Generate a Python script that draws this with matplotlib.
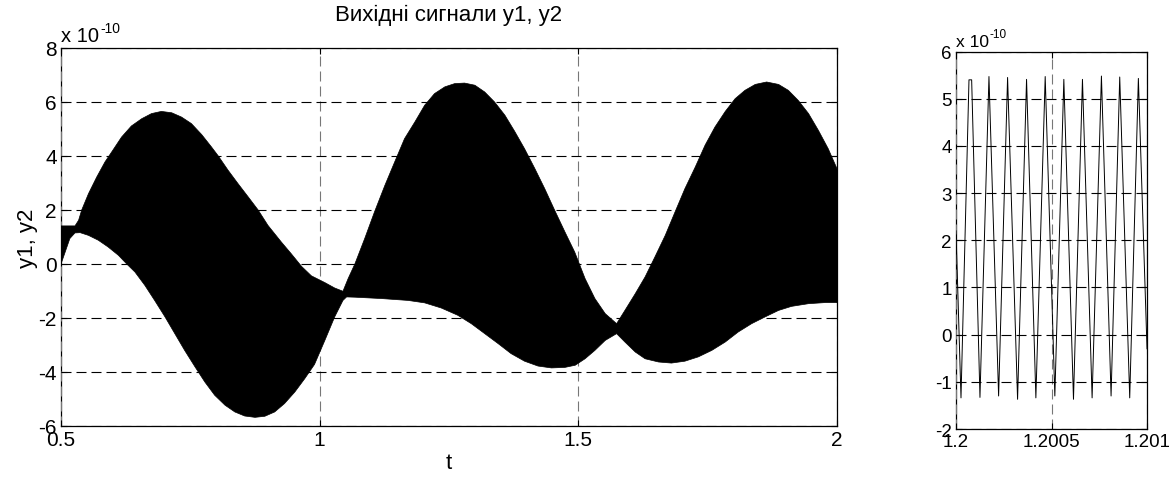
import numpy as np
import matplotlib
matplotlib.use("Agg")
import matplotlib.pyplot as plt
from matplotlib.transforms import offset_copy

plt.rcParams['font.family'] = ['Liberation Sans', 'DejaVu Sans']
plt.rcParams['axes.unicode_minus'] = False

# upper and lower envelope of the output band (values in units of 1e-10)
t_up = [0.5, 0.527, 0.534, 0.540, 0.553, 0.569, 0.585, 0.598, 0.617, 0.636,
        0.656, 0.675, 0.694, 0.714, 0.733, 0.752, 0.772, 0.791, 0.804, 0.823,
        0.842, 0.862, 0.881, 0.900, 0.926, 0.945, 0.965, 0.984, 1.010, 1.029,
        1.045, 1.055, 1.068, 1.087, 1.106, 1.126, 1.145, 1.164, 1.184, 1.203,
        1.222, 1.242, 1.261, 1.280, 1.300, 1.319, 1.338, 1.358, 1.377, 1.396,
        1.416, 1.435, 1.454, 1.474, 1.493, 1.513, 1.532, 1.552, 1.574, 1.590,
        1.610, 1.629, 1.648, 1.668, 1.687, 1.706, 1.726, 1.745, 1.764, 1.784,
        1.803, 1.822, 1.842, 1.864, 1.887, 1.906, 1.925, 1.945, 1.964, 1.983, 2.0]
y_up = [1.41, 1.41, 1.62, 2.0, 2.60, 3.22, 3.78, 4.15, 4.70, 5.11,
        5.38, 5.57, 5.65, 5.60, 5.44, 5.20, 4.79, 4.33, 4.0, 3.47,
        2.98, 2.48, 2.0, 1.43, 0.81, 0.38, -0.09, -0.44, -0.69, -0.89,
        -1.01, -0.54, 0.0, 0.94, 1.93, 2.91, 3.78, 4.64, 5.26, 5.88,
        6.31, 6.56, 6.68, 6.70, 6.62, 6.37, 6.0, 5.51, 4.91, 4.27,
        3.53, 2.79, 2.0, 1.19, 0.44, -0.54, -1.28, -1.84, -2.21, -1.72,
        -1.10, -0.48, 0.26, 1.06, 1.93, 2.79, 3.59, 4.40, 5.07, 5.65,
        6.12, 6.43, 6.65, 6.74, 6.65, 6.43, 6.06, 5.57, 4.95, 4.27, 3.53]

t_lo = [0.5, 0.508, 0.517, 0.527, 0.537, 0.553, 0.572, 0.591, 0.611, 0.627,
        0.643, 0.662, 0.681, 0.701, 0.720, 0.739, 0.759, 0.778, 0.797, 0.817,
        0.836, 0.855, 0.875, 0.894, 0.913, 0.932, 0.952, 0.971, 0.990, 1.010,
        1.029, 1.045, 1.052, 1.068, 1.119, 1.171, 1.203, 1.235, 1.267, 1.293,
        1.319, 1.345, 1.370, 1.396, 1.422, 1.448, 1.474, 1.494, 1.513, 1.532,
        1.552, 1.574, 1.590, 1.610, 1.629, 1.655, 1.680, 1.706, 1.732, 1.758,
        1.784, 1.809, 1.835, 1.861, 1.887, 1.912, 1.945, 1.977, 2.0]
y_lo = [0.0, 0.44, 0.94, 1.15, 1.16, 1.06, 0.88, 0.63, 0.32, 0.0,
        -0.30, -0.79, -1.35, -1.96, -2.58, -3.20, -3.81, -4.37, -4.86, -5.23,
        -5.48, -5.63, -5.68, -5.64, -5.48, -5.17, -4.74, -4.25, -3.72, -2.83,
        -1.96, -1.35, -1.22, -1.23, -1.28, -1.35, -1.44, -1.63, -1.90, -2.21,
        -2.58, -2.95, -3.32, -3.60, -3.78, -3.85, -3.83, -3.75, -3.51, -3.20,
        -2.83, -2.58, -2.89, -3.26, -3.51, -3.63, -3.67, -3.60, -3.44, -3.20,
        -2.89, -2.52, -2.21, -1.96, -1.72, -1.57, -1.47, -1.43, -1.43]

# zoomed piece of the signal, extremes
t_zoom = [1.2, 1.2000261, 1.2000679, 1.2000819, 1.2001254, 1.2001725, 1.2002230,
          1.2002700, 1.2003223, 1.2003693, 1.2004181, 1.2004669, 1.2005174,
          1.2005645, 1.2006150, 1.2006620, 1.2007125, 1.2007613, 1.2008118,
          1.2008571, 1.2009094, 1.2009547, 1.201]
y_zoom = [2.2, -1.34, 5.40, 5.40, -1.33, 5.47, -1.30,
          5.45, -1.37, 5.41, -1.34, 5.47, -1.30,
          5.41, -1.37, 5.41, -1.34, 5.48, -1.30,
          5.46, -1.34, 5.43, -0.3]

fig = plt.figure(figsize=(11.69, 4.81), dpi=100)
ax1 = fig.add_axes([0.0522, 0.1123, 0.6638, 0.7859])
ax2 = fig.add_axes([0.8178, 0.106, 0.1634, 0.7848])

# band
xs = np.concatenate([t_up, t_lo[::-1]])
ys = np.concatenate([y_up, y_lo[::-1]])
ax1.fill(xs, ys, color='black', lw=0.5, zorder=3)

ax1.set_xlim(0.5, 2)
ax1.set_ylim(-6, 8)
ax1.set_xticks([0.5, 1, 1.5, 2])
ax1.set_xticklabels(['0.5', '1', '1.5', '2'])
ax1.set_yticks(range(-6, 9, 2))
ax1.set_title('Вихідні сигнали y1, y2', fontsize=16, pad=20)
ax1.set_xlabel('t', fontsize=16, labelpad=2)
ax1.set_ylabel('y1, y2', fontsize=16, labelpad=0)

ax2.plot(t_zoom, y_zoom, color='black', lw=0.7, zorder=3)
ax2.set_xlim(1.2, 1.201)
ax2.set_ylim(-2, 6)
ax2.set_xticks([1.2, 1.2005, 1.201])
ax2.set_xticklabels(['1.2', '1.2005', '1.201'])
ax2.set_yticks(range(-2, 7))

# "x 10^-10" multiplier above each axes
for ax, fs, fe, dx, dy in ((ax1, 14.5, 10, 28, 7), (ax2, 12.5, 8.5, 24, 6)):
    ax.text(0.0, 1.008, 'x 10', transform=ax.transAxes,
            fontsize=fs, ha='left', va='bottom')
    tr = offset_copy(ax.transAxes, fig=fig, x=dx, y=dy, units='points')
    ax.text(0.0, 1.008, '-10', transform=tr, fontsize=fe,
            ha='left', va='bottom')

for ax, fs in ((ax1, 15), (ax2, 13.5)):
    ax.tick_params(direction='in', top=True, right=True, length=4,
                   labelsize=fs, pad=3)
    for s in ax.spines.values():
        s.set_linewidth(0.9)
    ax.yaxis.grid(True, color='black', lw=0.8, linestyle=(0, (9, 4.5)))
    ax.xaxis.grid(True, color='#777777', lw=0.8, linestyle=(0, (9, 4.5)))
    ax.set_axisbelow(False)

fig.savefig('out.png', dpi=100)
